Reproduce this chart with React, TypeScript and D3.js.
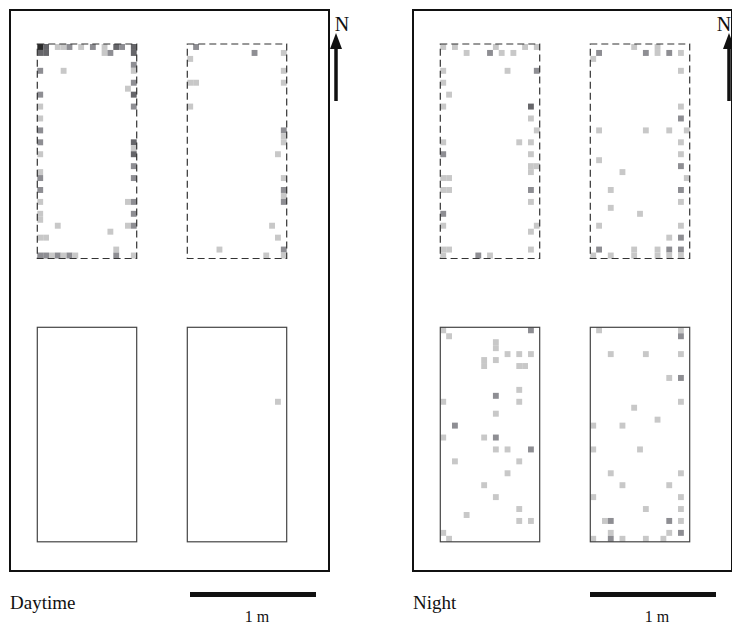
import React from "react";
import * as d3 from "d3";

// cells: [column, row, shade level]  (17 x 36 grid per plot)
const dayTopLeft = [
  [0,0,4],[1,0,3],[3,0,1],[4,0,1],[5,0,2],[7,0,1],[9,0,2],[11,0,1],[13,0,3],[14,0,2],[16,0,3],
  [0,1,3],[1,1,3],[11,1,1],[12,1,2],[16,1,3],
  [16,3,2],[0,4,2],[4,4,1],[16,4,1],[16,6,2],[15,7,1],[0,8,2],[16,8,3],
  [0,10,1],[16,10,2],[0,12,1],[0,14,2],[0,16,2],[16,16,3],[16,17,1],
  [0,18,1],[16,18,3],[16,20,2],[0,21,1],[0,22,2],[16,22,2],[0,24,2],
  [0,26,1],[15,26,1],[16,26,2],[0,28,1],[0,29,1],[16,28,2],[3,30,1],[15,30,1],[16,30,2],
  [12,31,1],[0,32,1],[1,32,1],[13,34,1],
  [0,35,2],[1,35,2],[2,35,1],[3,35,2],[4,35,1],[5,35,2],[6,35,1],[13,35,2],[16,35,1]
];
const dayTopRight = [
  [1,0,2],[11,1,2],[16,1,1],[0,2,1],[16,4,1],[0,6,1],[1,6,1],[16,6,1],[0,10,1],
  [16,14,2],[16,15,1],[16,16,1],
  [15,18,1],[16,22,1],[16,24,2],[16,25,1],[16,26,2],[14,30,1],[15,32,1],[5,34,1],
  [16,34,2],[16,35,1],[13,35,1]
];
const dayBottomLeft: number[][] = [];
const dayBottomRight = [[15,12,1]];

const nightTopLeft = [
  [0,0,1],[2,0,1],[9,0,1],[14,0,1],[16,0,1],
  [4,1,1],[8,1,2],[10,1,1],[12,1,1],
  [0,4,1],[11,4,1],[16,4,2],[0,6,1],[1,8,1],[0,10,1],[15,10,3],[15,12,1],[16,14,1],
  [0,16,1],[13,16,1],[15,16,1],
  [0,18,2],[15,18,1],[15,20,1],[16,20,1],[15,21,1],[0,22,1],[1,22,1],[0,24,1],[1,24,1],
  [15,24,2],[15,26,1],[0,28,2],[0,30,1],[16,30,1],[15,31,1],[0,34,1],[1,34,1],[15,34,1],
  [0,35,1],[6,35,2],[8,35,1]
];
const nightTopRight = [
  [7,0,1],[11,0,1],[1,1,2],[9,1,2],[11,1,1],[13,1,2],[15,1,1],[0,2,1],[15,4,1],
  [15,10,1],[15,12,2],[1,14,1],[9,14,1],[13,14,1],[16,14,1],[15,16,1],
  [15,18,1],[1,19,1],[15,20,2],[5,21,1],[16,22,1],[3,24,1],[15,24,2],[15,26,1],[3,27,1],
  [8,28,1],[1,30,1],[15,30,1],[13,32,1],[15,32,2],
  [1,34,2],[7,34,1],[11,34,1],[13,34,2],[15,34,2],
  [0,35,1],[3,35,1],[7,35,1],[11,35,1],[13,35,1],[15,35,1]
];
const nightBottomLeft = [
  [0,0,1],[15,0,2],[1,1,1],[9,2,1],[9,3,1],[11,4,1],[13,4,1],[15,4,1],[7,5,1],[9,5,1],
  [7,6,1],[13,6,1],[14,6,1],[13,10,1],[9,11,2],[0,12,1],[13,12,1],[9,14,1],[2,16,2],
  [0,18,1],[7,18,1],[9,18,2],[9,20,1],[11,20,1],[15,20,2],[2,22,1],[13,22,1],[11,24,1],
  [7,26,1],[9,28,1],[13,30,1],[4,31,1],[13,32,1],[15,32,1],[0,34,1],[1,35,1]
];
const nightBottomRight = [
  [1,0,1],[15,0,1],[15,1,2],[3,4,1],[9,4,1],[15,4,1],[13,8,1],[15,8,2],[15,12,1],[7,13,1],
  [11,15,1],[0,16,1],[5,16,1],
  [0,20,1],[8,20,1],[3,24,1],[15,24,1],[5,26,1],[13,26,1],[0,28,1],[15,28,1],[9,30,1],
  [15,30,1],[2,32,1],[3,32,2],[13,32,2],[15,32,1],[3,34,1],[13,34,1],[15,34,2],
  [0,35,1],[3,35,2],[5,35,1],[9,35,1],[12,35,1]
];

const panelLabels = ["Daytime", "Night"];
const scaleLabel = "1 m";
const shades = ["#ffffff", "#c8c8c8", "#8e8e93", "#66666a", "#2a2a2a"];

const panels = [
  { label: panelLabels[0], dx: 0, arrowX: 336, nX: 342, barX: 190,
    plots: [dayTopLeft, dayTopRight, dayBottomLeft, dayBottomRight] },
  { label: panelLabels[1], dx: 403, arrowX: 729, nX: 724, barX: 187,
    plots: [nightTopLeft, nightTopRight, nightBottomLeft, nightBottomRight] }
];

const cols = d3.range(17);
const rows = d3.range(36);
const plotW = 99.4;
const plotH = 214.5;
const plotPos = [
  { x: 37.3, y: 44, dashed: true },
  { x: 187.3, y: 44, dashed: true },
  { x: 37.3, y: 327.3, dashed: false },
  { x: 187.3, y: 327.3, dashed: false }
];

const xScale = d3.scaleBand<number>().domain(cols).range([0, plotW]);
const yScale = d3.scaleBand<number>().domain(rows).range([0, plotH]);

const serif = "'Liberation Serif', 'Times New Roman', serif";

export default function App() {
  return (
    <svg width={732} height={626} viewBox="0 0 732 626"
      style={{ position: "absolute", left: 0, top: 0, background: "#fff" }}>
      {panels.map((p, pi) => (
        <g key={pi}>
          <g transform={`translate(${p.dx},0)`}>
            <rect x={10} y={10} width={319} height={561} fill="none" stroke="#111" strokeWidth={2} />
            {p.plots.map((cells, k) => {
              const pos = plotPos[k];
              return (
                <g key={k} transform={`translate(${pos.x},${pos.y})`}>
                  {cells.map((c, i) => (
                    <rect key={i} x={xScale(c[0])} y={yScale(c[1])}
                      width={xScale.bandwidth()} height={yScale.bandwidth()}
                      fill={shades[c[2]]} />
                  ))}
                  <rect x={0} y={0} width={plotW} height={plotH} fill="none"
                    stroke={pos.dashed ? "#333" : "#444"} strokeWidth={1.2}
                    strokeDasharray={pos.dashed ? "7,4" : undefined} />
                </g>
              );
            })}
            <text x={10} y={609} fontFamily={serif} fontSize={19} fill="#111">{p.label}</text>
            <line x1={p.barX} x2={p.barX + 126} y1={594.5} y2={594.5} stroke="#111" strokeWidth={5} />
            <text x={p.barX + 67} y={622} textAnchor="middle" fontFamily={serif} fontSize={16} fill="#111">{scaleLabel}</text>
          </g>
          <text x={p.nX} y={31} textAnchor="middle" fontFamily={serif} fontSize={20} fill="#111">N</text>
          <line x1={p.arrowX} x2={p.arrowX} y1={46} y2={101} stroke="#111" strokeWidth={3.5} />
          <path d={`M${p.arrowX},33 L${p.arrowX - 6},49 L${p.arrowX + 6},49 Z`} fill="#111" />
        </g>
      ))}
    </svg>
  );
}
